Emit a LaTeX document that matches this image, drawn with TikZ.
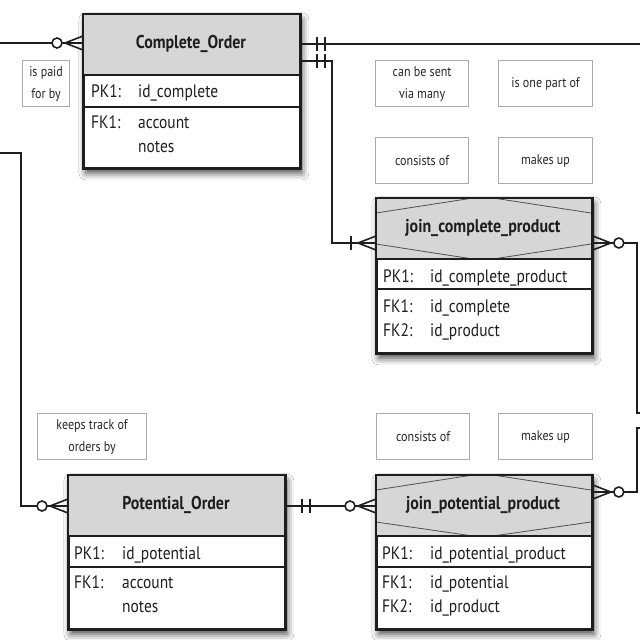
\documentclass[tikz,border=0pt]{standalone}
\usepackage{fontspec}
\setmainfont{PT Sans}[FakeStretch=0.86]
\usetikzlibrary{shadows.blur}
\definecolor{hdr}{HTML}{D6D6D6}
\definecolor{bord}{HTML}{1E1E1E}
\definecolor{lbl}{HTML}{ABABAB}
\definecolor{txt}{HTML}{262626}
\definecolor{hexl}{HTML}{505050}
\tikzset{
  ent/.style={draw=bord, line width=1.8pt, fill=white, inner sep=0pt, anchor=north west,
    blur shadow={shadow xshift=2pt, shadow yshift=-5pt, shadow blur radius=7pt, shadow opacity=75}},
  sep/.style={draw=bord, line width=1.6pt},
  hexline/.style={draw=hexl, line width=0.8pt},
  conn/.style={draw=bord, line width=1.6pt},
  ttl/.style={font=\fontsize{18.5}{20}\selectfont\bfseries, text=bord, anchor=base, inner sep=0pt},
  fld/.style={font=\fontsize{18}{20}\selectfont, text=bord, anchor=base west, inner sep=0pt},
  lab/.style={draw=lbl, line width=1.2pt, text=txt, font=\fontsize{14}{22}\selectfont,
    align=center, inner sep=0pt, anchor=north west, minimum height=46pt},
  pics/zeromany/.style={code={
    \draw[conn] (0,-7) -- (18,0) -- (0,7);
    \draw[conn, fill=white] (26,0) circle (5pt);}},
  pics/onemany/.style={code={
    \draw[conn] (0,-7) -- (18,0) -- (0,7);
    \draw[conn] (25,-7) -- (25,7);}},
  pics/oneone/.style={code={
    \draw[conn] (16,-7) -- (16,7);
    \draw[conn] (24,-7) -- (24,7);}},
}
\begin{document}
\begin{tikzpicture}[x=1pt,y=-1pt]
\useasboundingbox[fill=white] (0,0) rectangle (640,640);

% ---------- connector end points ----------
\coordinate (f1) at (0,43);
\coordinate (f2) at (640,44);
\coordinate (b3) at (332,61);
\coordinate (b4) at (637,243);
\coordinate (f4) at (640,413);
\coordinate (f5) at (640,428);
\coordinate (b5) at (637,492);
\coordinate (f6) at (0,153);
\coordinate (b6) at (21,506);

% ---------- Complete_Order ----------
\node[ent, minimum width=216pt, minimum height=153pt] (co) at (83,14) {};
\fill[hdr] (83,14) rectangle (299,75);
\draw[sep] (83,75) -- (299,75);
\draw[sep] (83,107) -- (299,107);
\draw[draw=bord, line width=1.8pt] (co.north west) rectangle (co.south east);
\node[ttl] (coT) at (191,48) {Complete\_Order};
\node[fld] (coP) at (91,97) {PK1:};
\node[fld] (coPv) at (138,97) {id\_complete};
\node[fld] (coF) at (91,128) {FK1:};
\node[fld] (coFv) at (138,128) {account};
\node[fld] (coFv2) at (138,152) {notes};

% ---------- join_complete_product ----------
\node[ent, minimum width=215pt, minimum height=154pt] (jcp) at (376,198) {};
\fill[hdr] (376,198) rectangle (591,259);
\draw[hexline] (376,213) -- (473,198) -- (493,198) -- (591,213);
\draw[hexline] (376,244) -- (473,259) -- (493,259) -- (591,244);
\draw[sep] (376,259) -- (591,259);
\draw[sep] (376,289) -- (591,289);
\draw[draw=bord, line width=1.8pt] (jcp.north west) rectangle (jcp.south east);
\node[ttl] (jcpT) at (483,232) {join\_complete\_product};
\node[fld] (jcpP) at (383,282) {PK1:};
\node[fld] (jcpPv) at (430,282) {id\_complete\_product};
\node[fld] (jcpF) at (383,312) {FK1:};
\node[fld] (jcpFv) at (430,312) {id\_complete};
\node[fld] (jcpF2) at (383,336) {FK2:};
\node[fld] (jcpF2v) at (430,336) {id\_product};

% ---------- Potential_Order ----------
\node[ent, minimum width=216pt, minimum height=153pt] (po) at (68,475) {};
\fill[hdr] (68,475) rectangle (284,536);
\draw[sep] (68,536) -- (284,536);
\draw[sep] (68,567) -- (284,567);
\draw[draw=bord, line width=1.8pt] (po.north west) rectangle (po.south east);
\node[ttl] (poT) at (176,509) {Potential\_Order};
\node[fld] (poP) at (74,559) {PK1:};
\node[fld] (poPv) at (122,559) {id\_potential};
\node[fld] (poF) at (74,588) {FK1:};
\node[fld] (poFv) at (122,588) {account};
\node[fld] (poFv2) at (122,612) {notes};

% ---------- join_potential_product ----------
\node[ent, minimum width=215pt, minimum height=153pt] (jpp) at (376,475) {};
\fill[hdr] (376,475) rectangle (591,536);
\draw[hexline] (376,490) -- (473,475) -- (493,475) -- (591,490);
\draw[hexline] (376,522) -- (473,536) -- (493,536) -- (591,522);
\draw[sep] (376,536) -- (591,536);
\draw[sep] (376,567) -- (591,567);
\draw[draw=bord, line width=1.8pt] (jpp.north west) rectangle (jpp.south east);
\node[ttl] (jppT) at (483,509) {join\_potential\_product};
\node[fld] (jppP) at (382,559) {PK1:};
\node[fld] (jppPv) at (430,559) {id\_potential\_product};
\node[fld] (jppF) at (382,588) {FK1:};
\node[fld] (jppFv) at (430,588) {id\_potential};
\node[fld] (jppF2) at (382,612) {FK2:};
\node[fld] (jppF2v) at (430,612) {id\_product};

% ---------- connectors ----------
\draw[conn] (f1) -- (co.west |- f1);
\draw[conn] (co.east |- f2) -- (f2);
\draw[conn] (co.east |- b3) -- (b3) |- (jcp.west |- 0,243);
\draw[conn] (jcp.east |- b4) -- (b4) |- (f4);
\draw[conn] (f5) -| (b5) -- (jpp.east |- b5);
\draw[conn] (f6) -| (b6) -- (po.west |- b6);
\draw[conn] (po.east |- 0,506) -- (jpp.west |- 0,506);

% ---------- cardinality marks ----------
\pic[xscale=-1] at (co.west |- f1) {zeromany};
\pic at (co.east |- f2) {oneone};
\pic at (co.east |- b3) {oneone};
\pic[xscale=-1] at (jcp.west |- 0,243) {onemany};
\pic at (jcp.east |- b4) {zeromany};
\pic at (jpp.east |- b5) {zeromany};
\pic[xscale=-1] at (po.west |- b6) {zeromany};
\pic at (po.east |- 0,506) {oneone};
\pic[xscale=-1] at (jpp.west |- 0,506) {zeromany};

% ---------- relationship labels ----------
\node[lab, minimum width=47pt] (l1) at (22,60) {is paid\\for by};
\node[lab, minimum width=93pt] (l2) at (375,60) {can be sent\\via many};
\node[lab, minimum width=94pt] (l3) at (498,60) {is one part of};
\node[lab, minimum width=93pt] (l4) at (375,137) {consists of};
\node[lab, minimum width=94pt] (l5) at (498,137) {makes up};
\node[lab, minimum width=109pt] (l6) at (37,413) {keeps track of\\orders by};
\node[lab, minimum width=93pt] (l7) at (376,413) {consists of};
\node[lab, minimum width=94pt] (l8) at (498,413) {makes up};
\end{tikzpicture}
\end{document}
